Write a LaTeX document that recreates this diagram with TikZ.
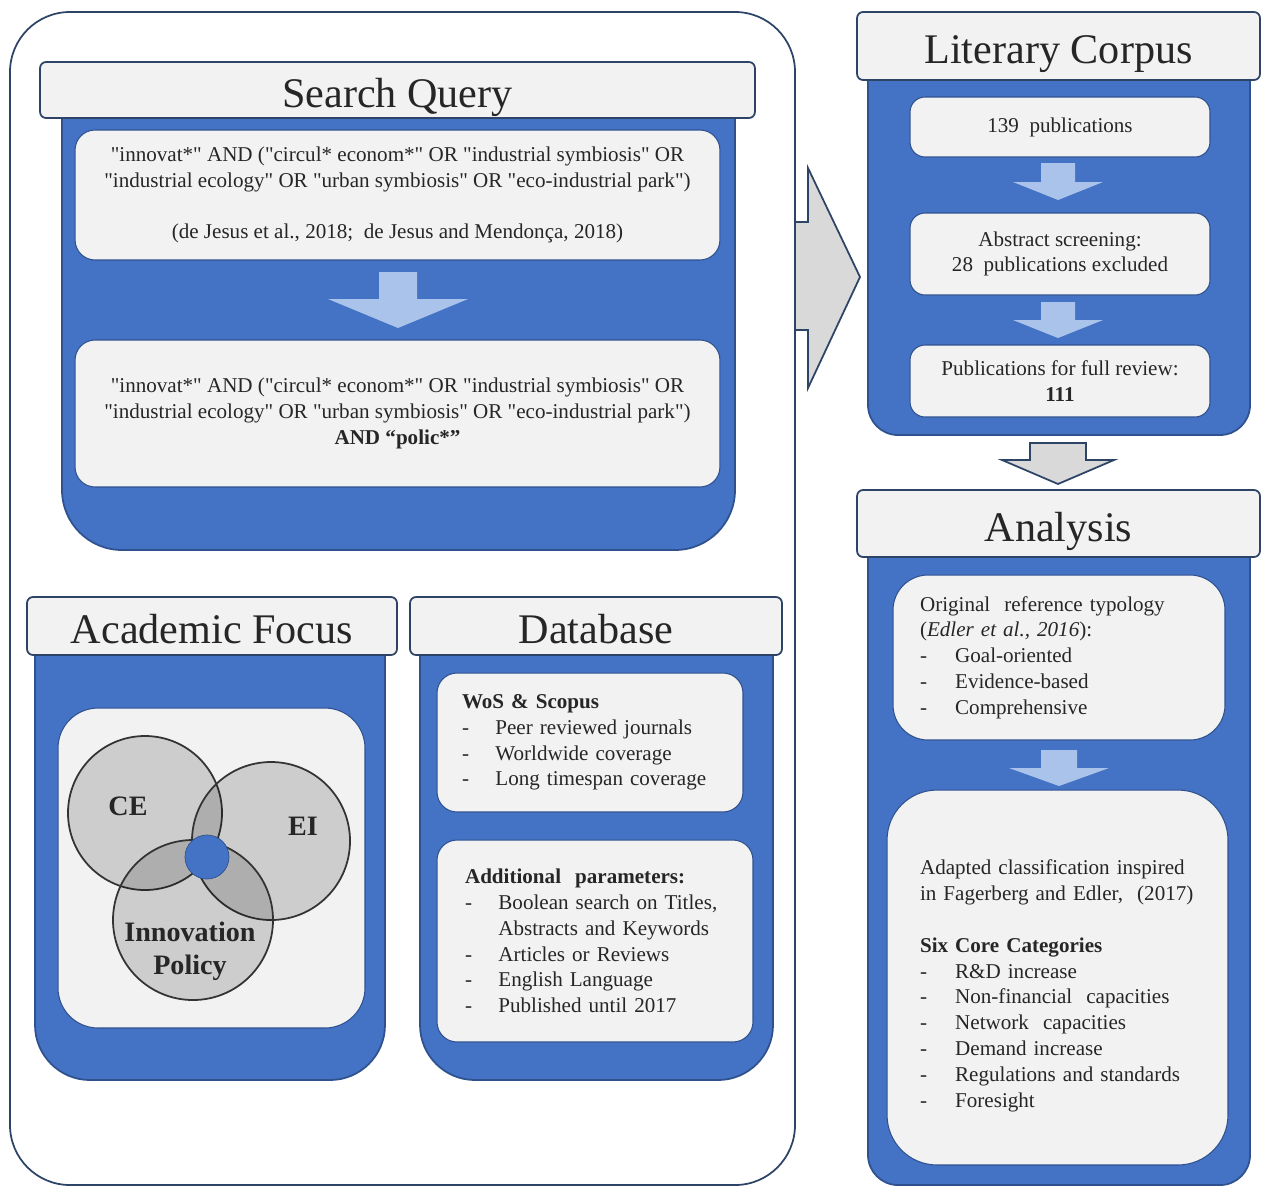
\documentclass[tikz,border=0pt]{standalone}
\usepackage{fontspec}
\setmainfont{Liberation Serif}[Ligatures=TeXOff]
\usepackage{tikz}
\usetikzlibrary{calc}

\definecolor{bodyblue}{HTML}{4472C4}
\definecolor{bodyline}{HTML}{2F528F}
\definecolor{headline}{HTML}{2E4466}
\definecolor{boxfill}{HTML}{F2F2F2}
\definecolor{flowblue}{HTML}{A9C3EB}
\definecolor{bigarrow}{HTML}{D9D9D9}
\definecolor{txt}{HTML}{262626}

\begin{document}
\begin{tikzpicture}[x=0.02cm, y=-0.02cm,
    head/.style={draw=headline, fill=boxfill, line width=1pt, rounded corners=0.12cm,
        inner sep=0pt, text height=21pt, text depth=1pt, text=txt, font=\fontsize{24}{28}\selectfont},
    body/.style={draw=bodyline, fill=bodyblue, line width=1pt},
    ibox/.style={draw=bodyline, fill=boxfill, line width=0.6pt, rounded corners=0.4cm,
        inner sep=0pt, align=center, text=txt, font=\fontsize{12}{14.7}\selectfont},
    flow/.style={fill=flowblue},
    venn/.style={fill=black, fill opacity=0.15, draw=black!80, line width=1pt},
    vlabel/.style={text=txt, font=\bfseries\fontsize{16}{19}\selectfont, align=center}]

    \useasboundingbox (0,0) rectangle (1263,1187);

    % Outer frame
    \draw[headline, line width=1pt, rounded corners=1.2cm] (10,12) rectangle (795,1185);

    % Big arrow to corpus
    \filldraw[fill=bigarrow, draw=headline, line width=1pt] (795,222) -- (808,222) -- (808,168)
        -- (860,277) -- (808,388) -- (808,330) -- (795,330) -- cycle;

    % Search Query
    \draw[body] (62,118) [rounded corners=1.2cm] -- (62,550) -- (735,550) [sharp corners] -- (735,118) -- cycle;
    \node[head, minimum width=14.3cm, minimum height=1.12cm] (sqhead) at (397.5,90) {Search Query};
    \node[ibox, minimum width=12.9cm, minimum height=2.6cm] (sq1) at (397.5,195)
        {"innovat*" AND ("circul* econom*" OR "industrial symbiosis" OR\\
         "industrial ecology" OR "urban symbiosis" OR "eco-industrial park")\\[14.7pt]
         (de Jesus et al., 2018;\ \ de Jesus and Mendonça, 2018)};
    \fill[flow] (379,272) -- (417,272) -- (417,299) -- (468,299) -- (398,328) -- (328,299) -- (379,299) -- cycle;
    \node[ibox, minimum width=12.9cm, minimum height=2.94cm] (sq2) at (397.5,413.5)
        {"innovat*" AND ("circul* econom*" OR "industrial symbiosis" OR\\
         "industrial ecology" OR "urban symbiosis" OR "eco-industrial park")\\
         \textbf{AND “polic*”}};

    % Academic Focus
    \draw[body] (35,655) [rounded corners=1.1cm] -- (35,1080) -- (385,1080) [sharp corners] -- (385,655) -- cycle;
    \node[head, minimum width=7.4cm, minimum height=1.16cm] (afhead) at (212,626) {Academic Focus};
    \node[ibox, minimum width=6.14cm, minimum height=6.4cm, rounded corners=0.8cm] (venn) at (211.5,868) {};
    \draw[venn] (145,813) circle (77);
    \draw[venn] (271,841) circle (79);
    \draw[venn] (193,920) circle (80);
    \filldraw[fill=bodyblue, draw=bodyline] (207,857) circle (22);
    \node[vlabel] (ce) at (128,806) {CE};
    \node[vlabel] (ei) at (303,826) {EI};
    \node[vlabel] (ip) at (190,951) {Innovation\\Policy};

    % Database
    \draw[body] (420,655) [rounded corners=1.1cm] -- (420,1080) -- (773,1080) [sharp corners] -- (773,655) -- cycle;
    \node[head, minimum width=7.44cm, minimum height=1.16cm] (dbhead) at (596,626) {Database};
    \node[ibox, minimum width=6.12cm, minimum height=2.78cm, text width=5.12cm, align=left] (db1) at (590,742.5)
        {\textbf{WoS \& Scopus}\\
         \makebox[19pt][l]{-}Peer reviewed journals\\
         \makebox[19pt][l]{-}Worldwide coverage\\
         \makebox[19pt][l]{-}Long timespan coverage};
    \node[ibox, minimum width=6.32cm, minimum height=4.04cm, text width=5.2cm, align=left] (db2) at (595,941)
        {\textbf{Additional\ \ parameters:}\\
         \makebox[19pt][l]{-}Boolean search on Titles,\\
         \hspace*{19pt}Abstracts and Keywords\\
         \makebox[19pt][l]{-}Articles or Reviews\\
         \makebox[19pt][l]{-}English Language\\
         \makebox[19pt][l]{-}Published until 2017};

    % Literary Corpus
    \draw[body] (868,80) [rounded corners=0.6cm] -- (868,435) -- (1250,435) [sharp corners] -- (1250,80) -- cycle;
    \node[head, minimum width=8.06cm, minimum height=1.36cm] (lchead) at (1058.5,46) {Literary Corpus};
    \node[ibox, minimum width=6cm, minimum height=1.2cm, rounded corners=0.3cm] (lc1) at (1060,127) {139\ \ publications};
    \fill[flow] (1041,163) -- (1075,163) -- (1075,182) -- (1103,182) -- (1058,200) -- (1013,182) -- (1041,182) -- cycle;
    \node[ibox, minimum width=6cm, minimum height=1.64cm, rounded corners=0.3cm] (lc2) at (1060,254)
        {Abstract screening:\\28\ \ publications excluded};
    \fill[flow] (1041,302) -- (1075,302) -- (1075,320) -- (1103,320) -- (1058,338) -- (1013,320) -- (1041,320) -- cycle;
    \node[ibox, minimum width=6cm, minimum height=1.44cm, rounded corners=0.3cm] (lc3) at (1060,381)
        {Publications for full review:\\\textbf{111}};

    % Arrow to analysis
    \filldraw[fill=bigarrow, draw=headline, line width=1pt] (1030,443) -- (1086,443) -- (1086,460) -- (1114,460)
        -- (1058,484) -- (1002,460) -- (1030,460) -- cycle;

    % Analysis
    \draw[body] (868,557) [rounded corners=0.6cm] -- (868,1185) -- (1250,1185) [sharp corners] -- (1250,557) -- cycle;
    \node[head, minimum width=8.06cm, minimum height=1.34cm] (anhead) at (1058.5,523.5) {Analysis};
    \node[ibox, minimum width=6.64cm, minimum height=3.3cm, text width=5.56cm, align=left, rounded corners=0.7cm] (an1) at (1059,657.5)
        {Original\ \ reference typology\\
         (\textit{Edler et al., 2016}):\\
         \makebox[20pt][l]{-}Goal-oriented\\
         \makebox[20pt][l]{-}Evidence-based\\
         \makebox[20pt][l]{-}Comprehensive};
    \fill[flow] (1041,750) -- (1077,750) -- (1077,768) -- (1109,768) -- (1059,786) -- (1009,768) -- (1041,768) -- cycle;
    \node[ibox, minimum width=6.82cm, minimum height=7.5cm, text width=5.5cm, align=left, rounded corners=1cm] (an2) at (1057.5,977.5)
        {\rule{0pt}{18pt}Adapted classification inspired\\
         in Fagerberg and Edler,\ \ (2017)\\[14.7pt]
         \textbf{Six Core Categories}\\
         \makebox[20pt][l]{-}R\&D increase\\
         \makebox[20pt][l]{-}Non-financial\ \ capacities\\
         \makebox[20pt][l]{-}Network\ \ capacities\\
         \makebox[20pt][l]{-}Demand increase\\
         \makebox[20pt][l]{-}Regulations and standards\\
         \makebox[20pt][l]{-}Foresight};
\end{tikzpicture}
\end{document}
